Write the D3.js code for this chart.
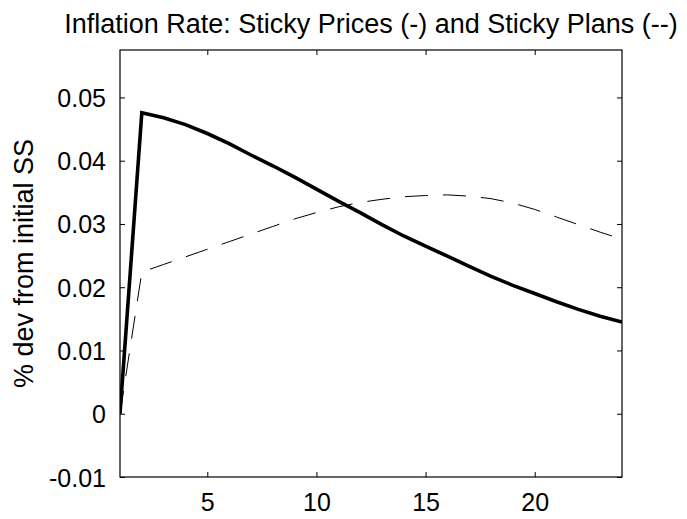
<!DOCTYPE html>
<html>
<head>
<meta charset="utf-8">
<script src="https://cdn.jsdelivr.net/npm/d3@7"></script>
<style>
  html, body { margin: 0; padding: 0; background: #fff; }
  svg { display: block; font-family: "Liberation Sans", Arial, Helvetica, sans-serif; }
</style>
</head>
<body>
<svg id="chart" width="687" height="519"></svg>
<script>
// Periods after the shock
const periods = d3.range(1, 25);

// Inflation response, sticky prices (solid)
const stickyPrices = [
  0, 0.0476, 0.0468, 0.0457, 0.0443, 0.0427, 0.0409, 0.0392,
  0.0374, 0.0355, 0.0336, 0.0318, 0.0299, 0.0281, 0.0265, 0.0249,
  0.0233, 0.0217, 0.0203, 0.0190, 0.0177, 0.0165, 0.0154, 0.0145
];

// Inflation response, sticky plans (dashed)
const stickyPlans = [
  0, 0.0224, 0.0236, 0.0248, 0.0260, 0.0272, 0.0284, 0.0296,
  0.0308, 0.0318, 0.0327, 0.0334, 0.0339, 0.0343, 0.0345, 0.0346,
  0.0344, 0.0340, 0.0333, 0.0323, 0.0311, 0.0299, 0.0287, 0.0276
];

const xTicks = [5, 10, 15, 20];
const yTicks = [-0.01, 0, 0.01, 0.02, 0.03, 0.04, 0.05];
const yTickLabels = ["-0.01", "0", "0.01", "0.02", "0.03", "0.04", "0.05"];

const titleText = "Inflation Rate: Sticky Prices (-) and Sticky Plans (--)";
const yLabelText = "% dev from initial SS";

const svg = d3.select("#chart");
const m = { left: 120, right: 622, top: 50, bottom: 477 };

const x = d3.scaleLinear().domain([1, 24]).range([m.left, m.right]);
const y = d3.scaleLinear().domain([-0.01, 0.0575]).range([m.bottom, m.top]);

const tickLen = 5;

// Bottom axis with labels, ticks pointing inward
const gx = svg.append("g").attr("transform", `translate(0,${m.bottom})`)
  .call(d3.axisBottom(x).tickValues(xTicks).tickSizeInner(-tickLen).tickSizeOuter(0).tickPadding(16).tickFormat(d3.format("d")));
// Top axis, ticks only
const gxt = svg.append("g").attr("transform", `translate(0,${m.top})`)
  .call(d3.axisTop(x).tickValues(xTicks).tickSizeInner(-tickLen).tickSizeOuter(0).tickFormat(""));
// Left axis with labels
const gy = svg.append("g").attr("transform", `translate(${m.left},0)`)
  .call(d3.axisLeft(y).tickValues(yTicks).tickSizeInner(-tickLen).tickSizeOuter(0).tickPadding(14)
    .tickFormat((d, i) => yTickLabels[i]));
// Right axis, ticks only
const gyr = svg.append("g").attr("transform", `translate(${m.right},0)`)
  .call(d3.axisRight(y).tickValues(yTicks).tickSizeInner(-tickLen).tickSizeOuter(0).tickFormat(""));

[gx, gxt, gy, gyr].forEach(g => {
  g.select(".domain").remove();
  g.selectAll("line").attr("stroke", "#000").attr("stroke-width", 1);
  g.selectAll("text").attr("fill", "#000").style("font-size", "25px")
    .style("font-family", '"Liberation Sans", Arial, sans-serif');
});
gx.selectAll("text").attr("dy", "0.71em");
gy.selectAll("text").attr("dy", "0.36em");

// Plot box
svg.append("rect")
  .attr("x", m.left).attr("y", m.top)
  .attr("width", m.right - m.left).attr("height", m.bottom - m.top)
  .attr("fill", "none").attr("stroke", "#000").attr("stroke-width", 1.2);

const clip = svg.append("clipPath").attr("id", "plotclip")
  .append("rect").attr("x", m.left).attr("y", m.top)
  .attr("width", m.right - m.left).attr("height", m.bottom - m.top);

const line = d3.line().x((d, i) => x(periods[i])).y(d => y(d));

const plot = svg.append("g").attr("clip-path", "url(#plotclip)");

plot.append("path").datum(stickyPlans)
  .attr("d", line).attr("fill", "none")
  .attr("stroke", "#000").attr("stroke-width", 1)
  .attr("stroke-dasharray", "23,15");

plot.append("path").datum(stickyPrices)
  .attr("d", line).attr("fill", "none")
  .attr("stroke", "#000").attr("stroke-width", 3.6)
  .attr("stroke-linejoin", "miter");

// Title
svg.append("text")
  .attr("x", (m.left + m.right) / 2).attr("y", 33)
  .attr("text-anchor", "middle")
  .style("font-size", "27px").attr("fill", "#000")
  .text(titleText);

// Y axis label
svg.append("text")
  .attr("transform", `translate(33,${(m.top + m.bottom) / 2}) rotate(-90)`)
  .attr("text-anchor", "middle")
  .style("font-size", "27px").attr("fill", "#000")
  .text(yLabelText);
</script>
</body>
</html>
